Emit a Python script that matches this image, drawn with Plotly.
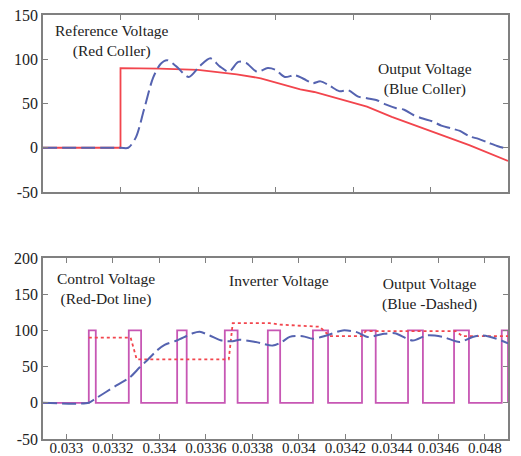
import plotly.graph_objects as go

# ---------------- Top panel data (time in s) ----------------
ref_t = [0.0, 0.0100, 0.0100, 0.0150, 0.0200, 0.0250, 0.0281, 0.0300, 0.0332, 0.0350, 0.0400, 0.0418, 0.0450, 0.0503, 0.0550, 0.0600]
ref_v = [0, 0, 90, 89.5, 88, 83, 78.5, 74, 66, 63, 51, 46.4, 35, 18, 3, -15]

out_t = [0.0, 0.0100, 0.0110, 0.0120, 0.0130, 0.0142, 0.0152, 0.0160, 0.0172, 0.0188, 0.0202, 0.0216, 0.0228, 0.0240,
         0.0252, 0.0262, 0.0276, 0.0290, 0.0300, 0.0312, 0.0325, 0.0336, 0.0348, 0.0358, 0.0370, 0.0382, 0.0394,
         0.0406, 0.0418, 0.0430, 0.0442, 0.0455, 0.0466, 0.0478, 0.0490, 0.0502, 0.0514, 0.0526, 0.0538, 0.0550,
         0.0562, 0.0574, 0.0586, 0.0594, 0.0600]
out_v = [0, 0, 0, 12, 42, 79, 95, 99, 92, 80, 92, 101, 92, 86,
         97, 96, 86, 90, 88, 80, 82, 78, 73, 75, 70, 64, 65,
         58, 56, 54, 49, 45, 43, 37, 33, 30, 25, 22, 19, 13,
         10, 6, 2, 0, -1]

# ---------------- Bottom panel data ----------------
pulse_on = [0.033097, 0.033269, 0.033477, 0.033682, 0.033867, 0.034061, 0.034272, 0.034470, 0.034668, 0.034873]
pulse_off = [0.033127, 0.033322, 0.033518, 0.033737, 0.033920, 0.034126, 0.034331, 0.034534, 0.034732, 0.034900]
pulse_high = 100
pulse_low = 0
t_start = 0.0329
t_end = 0.0349

ctrl_t = [0.033097, 0.033277, 0.033303, 0.033699, 0.033716, 0.033875, 0.033920, 0.034090, 0.034133, 0.034270, 0.034288, 0.034675, 0.034705, 0.034900]
ctrl_v = [90, 90, 60, 60, 110, 110, 108, 105, 92, 92, 99, 99, 92, 92]

vout_t = [0.0329, 0.033097, 0.033122, 0.033216, 0.033273, 0.033316, 0.033346, 0.033389, 0.033423, 0.033475, 0.033544,
          0.033574, 0.033617, 0.033669, 0.033716, 0.033746, 0.033815, 0.033888, 0.033927, 0.033961, 0.034017, 0.034060,
          0.034120, 0.034189, 0.034249, 0.034297, 0.034361, 0.034413, 0.034490, 0.034550, 0.034619, 0.034692, 0.034748,
          0.034791, 0.034851, 0.034900]
vout_v = [0, 0, 5, 24, 35, 49, 58, 72, 80, 86, 96,
          98, 93, 86, 85, 87, 84, 79, 84, 91, 92, 88.5,
          93, 100, 97.6, 91, 95, 96, 86, 93, 91, 84, 91,
          93, 88.5, 82]

bottom_tickvals = [0.0330, 0.0332, 0.0334, 0.0336, 0.0338, 0.0340, 0.0342, 0.0344, 0.0346, 0.0348]
bottom_ticktext = ["0.033", "0.0332", "0.334", "0.0336", "0.0338", "0.034", "0.0342", "0.0344", "0.0346", "0.048"]
top_tickvals = [0.01, 0.02, 0.03, 0.04, 0.05]
top_yvals = [-50, 0, 50, 100, 150]
top_ytext = ["-50", "0", "50", "100", "150"]
bot_yvals = [-50, 0, 50, 100, 150, 200]
bot_ytext = ["-50", "0", "50", "100", "150", "200"]

# build inverter square wave
inv_t = [t_start]
inv_v = [pulse_low]
for a, b in zip(pulse_on, pulse_off):
    inv_t += [a, a, b, b]
    inv_v += [pulse_low, pulse_high, pulse_high, pulse_low]

RED = "#f2454d"
BLUE = "#5563b0"
PINK = "#c757b4"
FONT = "Liberation Serif"

fig = go.Figure()

fig.add_trace(go.Scatter(x=ref_t, y=ref_v, mode="lines", line=dict(color=RED, width=1.8),
                         xaxis="x", yaxis="y", showlegend=False))
fig.add_trace(go.Scatter(x=out_t, y=out_v, mode="lines", line=dict(color=BLUE, width=2, dash="14px,5px", shape="spline", smoothing=0.8),
                         xaxis="x", yaxis="y", showlegend=False))

fig.add_trace(go.Scatter(x=inv_t, y=inv_v, mode="lines", line=dict(color=PINK, width=1.8),
                         xaxis="x2", yaxis="y2", showlegend=False))
fig.add_trace(go.Scatter(x=ctrl_t, y=ctrl_v, mode="lines", line=dict(color=RED, width=1.8, dash="3px,3px"),
                         xaxis="x2", yaxis="y2", showlegend=False))
fig.add_trace(go.Scatter(x=vout_t, y=vout_v, mode="lines", line=dict(color=BLUE, width=2, dash="14px,5px", shape="spline", smoothing=0.8),
                         xaxis="x2", yaxis="y2", showlegend=False))

axis_common = dict(showline=True, linecolor="#808080", linewidth=1.5, mirror="ticks", ticks="inside",
                   ticklen=5, tickcolor="#808080", tickwidth=1, showgrid=False, zeroline=False, automargin=False,
                   tickfont=dict(family=FONT, size=16, color="#222222"))

xaxis2_style = dict(axis_common)
xaxis2_style["tickfont"] = dict(family=FONT, size=15, color="#222222")

fig.update_layout(
    width=521, height=456,
    margin=dict(l=43, r=13, t=15, b=17),
    paper_bgcolor="white", plot_bgcolor="white",
    font=dict(family=FONT, size=15, color="#222222"),
    xaxis=dict(domain=[0, 1], range=[0, 0.06], tickvals=top_tickvals, showticklabels=False, anchor="y", **axis_common),
    yaxis=dict(domain=[0.5825, 1], range=[-50, 150], tickvals=top_yvals, ticktext=top_ytext, anchor="x", **axis_common),
    xaxis2=dict(domain=[0, 1], range=[t_start, t_end], tickvals=bottom_tickvals, ticktext=bottom_ticktext,
                anchor="y2", ticklabelstandoff=-6, **xaxis2_style),
    yaxis2=dict(domain=[0, 0.4269], range=[-50, 200], tickvals=bot_yvals, ticktext=bot_ytext, anchor="x2", **axis_common),
)

ann_font = dict(family=FONT, size=15.5, color="#222222")
annotations = [
    dict(x=0.00888, y=120.6, xref="x", yref="y", text="Reference Voltage<br>(Red Coller)"),
    dict(x=0.04925, y=77.7, xref="x", yref="y", text="Output Voltage<br>(Blue Coller)"),
    dict(x=0.03317, y=156.7, xref="x2", yref="y2", text="Control Voltage<br>(Red-Dot line)"),
    dict(x=0.033914, y=169, xref="x2", yref="y2", text="Inverter Voltage"),
    dict(x=0.034563, y=149.8, xref="x2", yref="y2", text="Output Voltage<br>(Blue -Dashed)"),
]
for a in annotations:
    fig.add_annotation(showarrow=False, font=ann_font, **a)

fig.write_html("out.html")
